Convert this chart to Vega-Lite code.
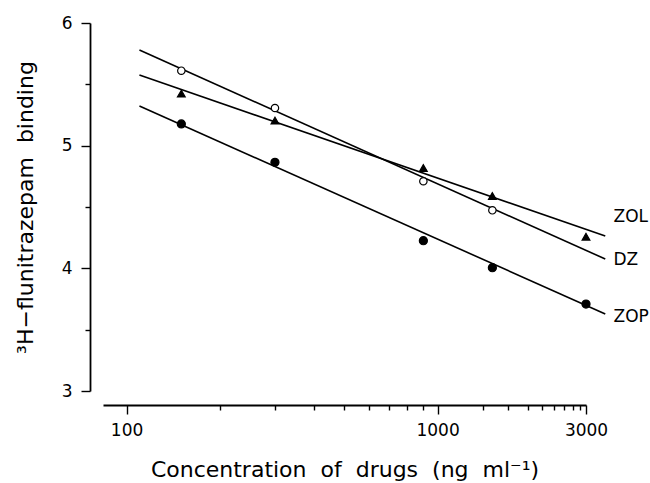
{
  "$schema": "https://vega.github.io/schema/vega-lite/v6.json",
  "autosize": {"type": "none"},
  "padding": {"left": 103, "top": 23, "right": 64, "bottom": 92},
  "width": 483,
  "height": 368,
  "background": "white",
  "config": {"view": {"stroke": null}, "font": "DejaVu Sans"},
  "datasets": {
    "points": [
      {"drug": "DZ", "conc": 150, "binding": 5.611},
      {"drug": "DZ", "conc": 300, "binding": 5.307},
      {"drug": "DZ", "conc": 900, "binding": 4.71},
      {"drug": "DZ", "conc": 1500, "binding": 4.473},
      {"drug": "ZOL", "conc": 150, "binding": 5.425},
      {"drug": "ZOL", "conc": 300, "binding": 5.204},
      {"drug": "ZOL", "conc": 900, "binding": 4.818},
      {"drug": "ZOL", "conc": 1500, "binding": 4.59},
      {"drug": "ZOL", "conc": 3000, "binding": 4.258},
      {"drug": "ZOP", "conc": 150, "binding": 5.177},
      {"drug": "ZOP", "conc": 300, "binding": 4.864},
      {"drug": "ZOP", "conc": 900, "binding": 4.225},
      {"drug": "ZOP", "conc": 1500, "binding": 4.005},
      {"drug": "ZOP", "conc": 3000, "binding": 3.709}
    ],
    "fits": [
      {"drug": "DZ", "conc": 110, "binding": 5.78},
      {"drug": "DZ", "conc": 3460, "binding": 4.076},
      {"drug": "ZOL", "conc": 110, "binding": 5.576},
      {"drug": "ZOL", "conc": 3460, "binding": 4.264},
      {"drug": "ZOP", "conc": 110, "binding": 5.323},
      {"drug": "ZOP", "conc": 3460, "binding": 3.628}
    ],
    "labels": [
      {"drug": "ZOL", "conc": 3678, "binding": 4.416},
      {"drug": "DZ", "conc": 3678, "binding": 4.068},
      {"drug": "ZOP", "conc": 3678, "binding": 3.606}
    ]
  },
  "encoding": {
    "x": {
      "field": "conc",
      "type": "quantitative",
      "scale": {"type": "log", "domain": [84, 3000], "nice": false},
      "axis": {
        "orient": "bottom",
        "offset": 14,
        "grid": false,
        "values": [100, 200, 300, 400, 500, 600, 700, 800, 900, 1000, 1396, 1690, 1960, 2170, 2360, 2545, 2730, 2880, 3000],
        "labelExpr": "indexof([100,1000,3000], datum.value) >= 0 ? format(datum.value, 'd') : ''",
        "tickSize": {"condition": {"test": "indexof([100,1000,3000], datum.value) >= 0", "value": 9}, "value": 5},
        "tickWidth": 1.4,
        "tickColor": "black",
        "domainColor": "black",
        "domainWidth": 1.8,
        "labelFont": "DejaVu Sans",
        "labelFontSize": 17,
        "labelColor": "black",
        "labelPadding": 8,
        "labelOverlap": false,
        "labelFlush": false,
        "title": "Concentration\u00a0 of\u00a0 drugs\u00a0 (ng\u00a0 ml\u207b\u00b9)",
        "titleFont": "DejaVu Sans",
        "titleFontSize": 22,
        "titleFontWeight": "normal",
        "titleColor": "black",
        "titlePadding": 21
      }
    },
    "y": {
      "field": "binding",
      "type": "quantitative",
      "scale": {"domain": [3, 6], "nice": false, "zero": false},
      "axis": {
        "orient": "left",
        "offset": 13,
        "grid": false,
        "values": [3, 3.5, 4, 4.5, 5, 5.5, 6],
        "labelExpr": "datum.value % 1 == 0 ? format(datum.value, 'd') : ''",
        "tickSize": {"condition": {"test": "datum.value % 1 == 0", "value": 9}, "value": 5},
        "tickWidth": 1.4,
        "tickColor": "black",
        "domainColor": "black",
        "domainWidth": 1.8,
        "labelFont": "DejaVu Sans",
        "labelFontSize": 17,
        "labelColor": "black",
        "labelPadding": 9,
        "labelOverlap": false,
        "labelFlush": false,
        "title": "\u00b3H\u2212flunitrazepam\u00a0 binding",
        "titleFont": "DejaVu Sans",
        "titleFontSize": 22,
        "titleFontWeight": "normal",
        "titleColor": "black",
        "titlePadding": 24
      }
    }
  },
  "layer": [
    {
      "data": {"name": "fits"},
      "mark": {"type": "line", "color": "black", "strokeWidth": 1.6},
      "encoding": {"detail": {"field": "drug"}}
    },
    {
      "data": {"name": "points"},
      "mark": {"type": "point", "stroke": "black", "strokeWidth": 1.2, "opacity": 1, "filled": false},
      "encoding": {
        "shape": {"field": "drug", "type": "nominal", "scale": {"domain": ["DZ", "ZOL", "ZOP"], "range": ["circle", "triangle-up", "circle"]}, "legend": null},
        "fill": {"field": "drug", "type": "nominal", "scale": {"domain": ["DZ", "ZOL", "ZOP"], "range": ["white", "black", "black"]}, "legend": null},
        "size": {"field": "drug", "type": "nominal", "scale": {"domain": ["DZ", "ZOL", "ZOP"], "range": [55, 65, 52]}, "legend": null}
      }
    },
    {
      "data": {"name": "labels"},
      "mark": {"type": "text", "align": "left", "baseline": "middle", "font": "DejaVu Sans", "fontSize": 17, "color": "black"},
      "encoding": {"text": {"field": "drug"}}
    }
  ]
}
